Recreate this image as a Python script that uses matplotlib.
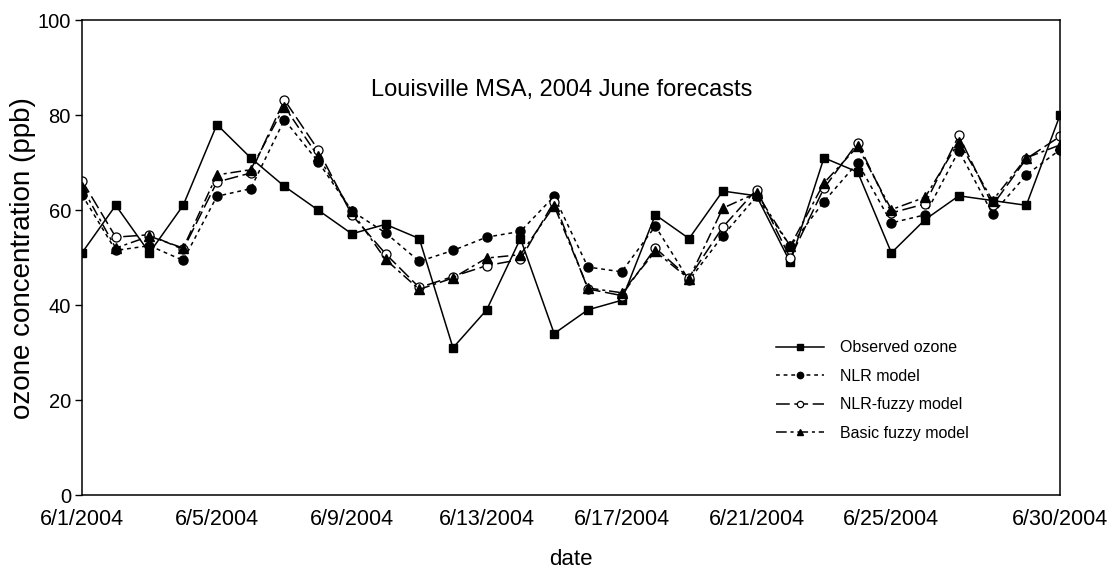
import matplotlib.pyplot as plt
import pandas as pd

plt.rcParams['font.family'] = ['Liberation Sans', 'DejaVu Sans']

dates = pd.date_range('2004-06-01', '2004-06-30', freq='D')
tick_dates = ['2004-06-01', '2004-06-05', '2004-06-09', '2004-06-13',
              '2004-06-17', '2004-06-21', '2004-06-25', '2004-06-30']

observed = [51, 61, 51, 61, 78, 71, 65, 60, 55, 57,
            54, 31, 39, 54, 34, 39, 41, 59, 54, 64,
            63, 49, 71, 68, 51, 58, 63, 62, 61, 80]
nlr = [63.2, 51.5, 52.5, 49.4, 62.9, 64.5, 79.0, 70.2, 59.8, 55.2,
       49.2, 51.5, 54.3, 55.5, 62.9, 48.0, 47.0, 56.6, 45.2, 54.6,
       62.9, 52.4, 61.8, 70.0, 57.3, 59.0, 72.5, 59.2, 67.4, 72.7]
nlr_fuzzy = [66.2, 54.3, 54.8, 51.7, 65.9, 67.8, 83.2, 72.7, 59.0, 50.8,
             43.7, 46.0, 48.3, 49.6, 61.8, 43.4, 42.0, 52.0, 45.7, 56.4,
             64.3, 49.9, 64.6, 74.2, 59.4, 61.3, 75.7, 61.0, 70.8, 75.5]
basic_fuzzy = [64.8, 52.0, 54.5, 52.0, 67.4, 68.5, 81.8, 71.3, 59.7, 49.6,
               43.3, 45.7, 49.9, 50.6, 60.9, 43.6, 42.6, 51.3, 45.5, 60.4,
               63.6, 52.4, 65.7, 73.4, 60.1, 62.7, 74.4, 62.0, 71.0, 73.7]

fig = plt.figure(figsize=(11.19, 5.73), dpi=100)
ax = fig.add_axes([0.0733, 0.136, 0.874, 0.829])

ax.plot(dates, observed, color='black', lw=1.1, ls='-', marker='s', ms=6,
        label='Observed ozone')
ax.plot(dates, nlr, color='black', lw=1.1, ls=(0, (2.5, 2.5)), marker='o', ms=6.5,
        label='NLR model')
ax.plot(dates, nlr_fuzzy, color='black', lw=1.1, ls=(0, (9, 3)), marker='o', ms=6.5,
        mfc='white', mew=0.9, label='NLR-fuzzy model')
ax.plot(dates, basic_fuzzy, color='black', lw=1.1, ls=(0, (7, 2.5, 2, 2.5)), marker='^',
        ms=6.5, label='Basic fuzzy model')

ax.set_xlim(dates[0], dates[-1])
ax.set_ylim(0, 100)
ax.set_yticks(range(0, 101, 20))
ticks = pd.to_datetime(tick_dates)
ax.set_xticks(ticks)
ax.set_xticklabels([f'{d.month}/{d.day}/{d.year}' for d in ticks])

ax.tick_params(axis='x', length=0, pad=10, labelsize=15.5)
ax.tick_params(axis='y', direction='out', length=5, width=1, pad=3, labelsize=14.5)
for s in ax.spines.values():
    s.set_linewidth(1.1)

ax.set_xlabel('date', fontsize=16, labelpad=14)
ax.set_ylabel('ozone concentration (ppb)', fontsize=20, labelpad=1)

ax.text(0.49, 0.853, 'Louisville MSA, 2004 June forecasts', transform=ax.transAxes,
        ha='center', va='center', fontsize=17)

ax.legend(loc='upper left', bbox_to_anchor=(0.695, 0.356), frameon=False,
          fontsize=11.5, handlelength=3.0, handletextpad=1.0, labelspacing=0.85,
          markerscale=0.7)

fig.savefig('out.png', dpi=100)
plt.close(fig)
